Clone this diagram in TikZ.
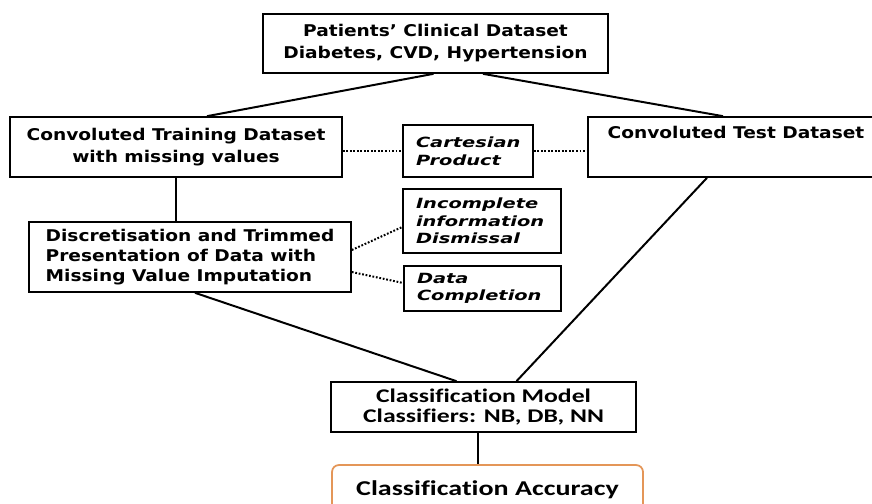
\documentclass[tikz,border=0pt]{standalone}
\usepackage{fontspec}
\newfontfamily\boxfont[FakeStretch=1.15]{DejaVu Sans Bold}
\newfontfamily\itfont[FakeStretch=1.38]{DejaVu Sans Bold Oblique}
\newfontfamily\calfont[FakeStretch=1.33, Ligatures=NoCommon]{Carlito Bold}
\usetikzlibrary{calc}
\definecolor{accorange}{RGB}{228,150,88}
\begin{document}
\begin{tikzpicture}[x=0.03cm, y=-0.03cm,
    box/.style={rectangle, draw, line width=1.4pt, inner sep=0pt,
                align=center,
                font=\boxfont\fontsize{13.8}{18.7}\selectfont},
    leftbox/.style={box, align=left,
                font=\boxfont\fontsize{13.8}{17.4}\selectfont},
    ibox/.style={rectangle, draw, line width=1.4pt, inner sep=0pt,
                align=left, text width=#1,
                font=\itfont\fontsize{12}{15}\selectfont},
    calbox/.style={rectangle, draw, line width=1.4pt, inner sep=0pt,
                align=center,
                font=\calfont\fontsize{16.5}{17.6}\selectfont},
    accbox/.style={rectangle, draw=accorange, line width=1.5pt,
                rounded corners=6pt, inner sep=0pt, align=center,
                font=\calfont\fontsize{18}{20}\selectfont},
    link/.style={line width=1.7pt},
    dotlink/.style={line width=1.7pt, dash pattern=on 1.5pt off 1.5pt}
]
    \useasboundingbox (0,0) rectangle (872,503);

    % Datasets
    \node[box, minimum width=10.35cm, minimum height=1.77cm] (top) at (435.5,43.5)
        {Patients’ Clinical Dataset\\Diabetes, CVD, Hypertension};
    \node[box, minimum width=9.96cm, minimum height=1.8cm] (train) at (176,147)
        {Convoluted Training Dataset\\with missing values};
    \node[box, minimum width=8.88cm, minimum height=1.8cm] (test) at (736,147)
        {Convoluted Test Dataset\\\strut};

    % Bewerking
    \node[ibox=3.12cm, minimum width=3.9cm, minimum height=1.56cm] (cart) at (468,151)
        {Cartesian\\Product};
    \node[leftbox, minimum width=9.66cm, minimum height=2.1cm] (discr) at (190,257)
        {Discretisation and Trimmed\\Presentation of Data with\\Missing Value Imputation};
    \node[ibox=3.96cm, minimum width=4.74cm, minimum height=1.92cm] (incomp) at (482,221)
        {Incomplete\\information\\Dismissal};
    \node[ibox=3.93cm, minimum width=4.71cm, minimum height=1.35cm] (compl) at (482.5,288.5)
        {Data\\Completion};

    % Classificatie
    \node[calbox, minimum width=9.15cm, minimum height=1.5cm] (model) at (483.5,407)
        {Classification Model\\Classifiers: NB, DB, NN};
    \node[accbox, minimum width=9.33cm, minimum height=1.5cm] (acc) at (487.5,490)
        {Classification Accuracy};

    % Verbindingen
    \coordinate (mb) at ($(model.south)+(-5.5,0)$);
    \draw[link] ($(top.south)+(-2,0)$) -- ($(train.north)+(31,0)$);
    \draw[link] ($(top.south)+(47.5,0)$) -- ($(test.north)+(-13,0)$);
    \draw[link] (train.south) -- (train.south |- discr.north);
    \draw[link] ($(discr.south)+(5,0)$) -- ($(model.north)+(-27,0)$);
    \draw[link] ($(test.south)+(-29,0)$) -- ($(model.north)+(33,0)$);
    \draw[link] (mb) -- (mb |- acc.north);

    \draw[dotlink] (cart.west -| train.east) -- (cart.west);
    \draw[dotlink] (cart.east) -- (cart.east -| test.west);
    \draw[dotlink] ($(discr.east)+(0,-7)$) -- ($(incomp.west)+(0,6)$);
    \draw[dotlink] ($(discr.east)+(0,15)$) -- ($(compl.west)+(0,-5.5)$);

\end{tikzpicture}
\end{document}
